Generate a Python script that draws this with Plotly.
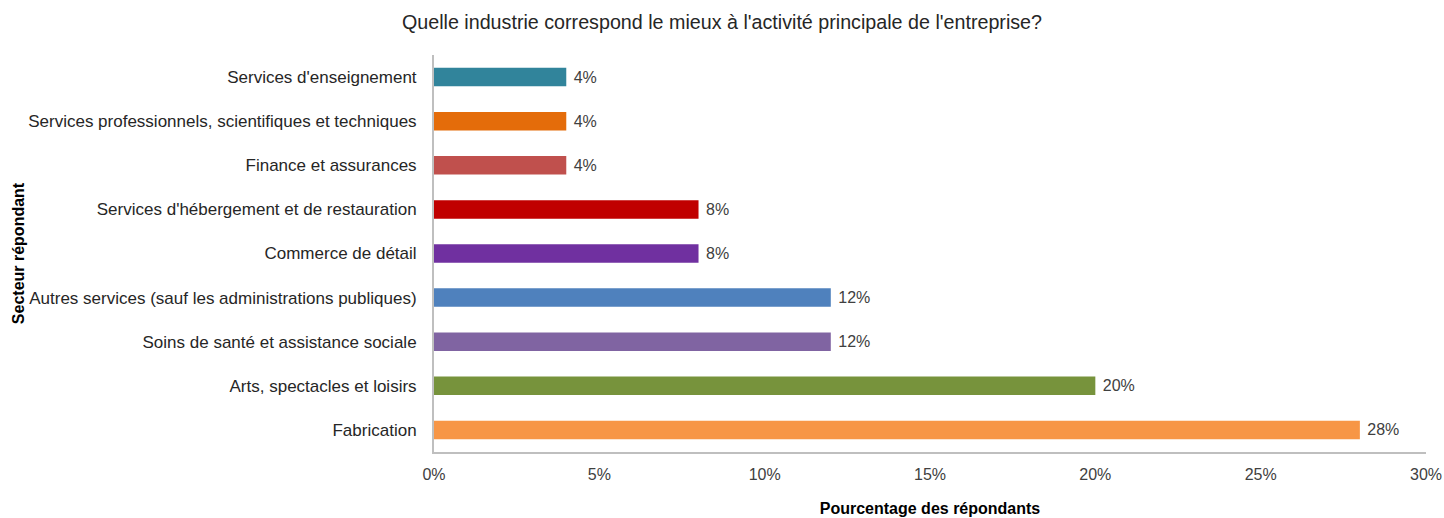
import plotly.graph_objects as go

categories = [
    "Fabrication",
    "Arts, spectacles et loisirs",
    "Soins de santé et assistance sociale",
    "Autres services (sauf les administrations publiques)",
    "Commerce de détail",
    "Services d'hébergement et de restauration",
    "Finance et assurances",
    "Services professionnels, scientifiques et techniques",
    "Services d'enseignement",
]
values = [28, 20, 12, 12, 8, 8, 4, 4, 4]
colors = ["#F79646", "#77933C", "#8064A2", "#4F81BD", "#7030A0",
          "#C00000", "#C0504D", "#E46C0A", "#31849B"]
x_ticks = [0, 5, 10, 15, 20, 25, 30]

fig = go.Figure(go.Bar(
    x=values,
    y=categories,
    orientation="h",
    marker=dict(color=colors, line=dict(width=0)),
    width=0.42,
    text=[f"\u00a0{v}%" for v in values],
    textposition="outside",
    textfont=dict(size=16, color="#404040"),
    cliponaxis=False,
))

fig.update_layout(
    width=1444,
    height=518,
    margin=dict(l=434, r=18, t=55, b=66),
    plot_bgcolor="white",
    paper_bgcolor="white",
    font=dict(family="Liberation Sans, Arial, sans-serif", size=16, color="#262626"),
    title=dict(
        text="Quelle industrie correspond le mieux à l'activité principale de l'entreprise?",
        x=0.5, xanchor="center", y=0.9575, yanchor="middle",
        font=dict(size=19.7, color="#262626"),
    ),
    showlegend=False,
)

fig.update_xaxes(
    range=[0, 30],
    tickvals=x_ticks,
    ticktext=[f"{t}%" for t in x_ticks],
    showgrid=False,
    zeroline=False,
    showline=True,
    linecolor="#BFBFBF",
    linewidth=2,
    ticks="outside",
    ticklen=7,
    tickcolor="rgba(0,0,0,0)",
    automargin=False,
    tickfont=dict(size=16, color="#404040"),
    title=dict(text="<b>Pourcentage des répondants</b>", font=dict(size=16, color="#000000"), standoff=21),
)
fig.update_yaxes(
    showgrid=False,
    zeroline=False,
    showline=True,
    linecolor="#BFBFBF",
    linewidth=2,
    ticks="outside",
    ticklen=12,
    tickcolor="rgba(0,0,0,0)",
    automargin=False,
    tickfont=dict(size=17, color="#262626"),
    title=dict(text="<b>Secteur répondant</b>", font=dict(size=16, color="#000000"), standoff=0),
)

# drop the browser's default body margin so the figure fills the window
fig.write_html("out.html", config={"displayModeBar": False},
               post_script="document.body.style.margin='0';")
